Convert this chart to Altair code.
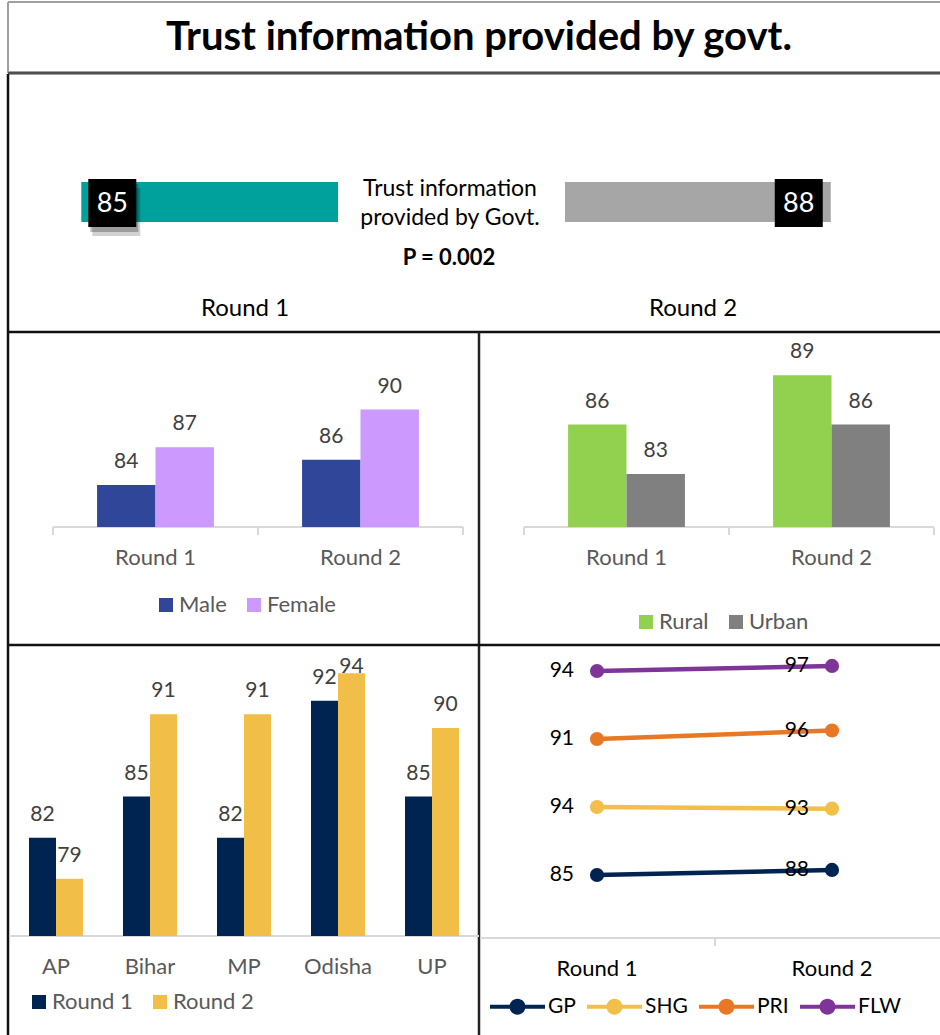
import altair as alt
import pandas as pd

FONT = "Lato"

# ---------------- data ----------------
rounds = ["Round 1", "Round 2"]
overall = [85, 88]

gender_series = ["Male", "Female"]
male = [84, 86]
female = [87, 90]

area_series = ["Rural", "Urban"]
rural = [86, 89]
urban = [83, 86]

states = ["AP", "Bihar", "MP", "Odisha", "UP"]
state_r1 = [82, 85, 82, 92, 85]
state_r2 = [79, 91, 91, 94, 90]

groups = ["GP", "SHG", "PRI", "FLW"]
group_r1 = [85, 94, 91, 94]
group_r2 = [88, 93, 96, 97]

title_text = "Trust information provided by govt."
center_text = "Trust information\nprovided by Govt."
p_text = "P = 0.002"

# ---------------- colours ----------------
TEAL, GREY_BAR = "#00A09C", "#A6A6A6"
MALE_C, FEMALE_C = "#2F4699", "#CC99FF"
RURAL_C, URBAN_C = "#92D050", "#808080"
NAVY, GOLD = "#002452", "#F1BE48"
GROUP_C = ["#002452", "#F2BF4A", "#E97826", "#7F3598"]
AXIS_C = "#D9D9D9"
CAT_C = "#595959"
VAL_C = "#404040"

dummy = pd.DataFrame({"d": [0]})


def rule(x1, y1, x2, y2, color, w):
    return alt.Chart(dummy).mark_rule(color=color, strokeWidth=w).encode(
        x=alt.value(x1), y=alt.value(y1), x2=alt.value(x2), y2=alt.value(y2))


def label(text, x, y, size, color="#000000", weight="normal", **kw):
    return alt.Chart(dummy).mark_text(
        text=text, fontSize=size, color=color, fontWeight=weight, font=FONT,
        baseline="middle", **kw).encode(x=alt.value(x), y=alt.value(y))


layers = []

# ---------------- frame ----------------
layers += [
    rule(8, 2, 940, 2, "#A0A0A0", 2),
    rule(8, 2, 8, 73, "#A0A0A0", 2),
    rule(8, 73, 940, 73, "#A0A0A0", 4),
    rule(8, 73, 940, 73, "#333333", 1.5),
    rule(8, 74, 8, 1035, "#111111", 2.5),
    rule(8, 332, 940, 332, "#111111", 2.5),
    rule(479, 332, 479, 1035, "#222222", 2.5),
    rule(8, 645, 940, 645, "#111111", 2.5),
]

layers.append(label(title_text, 479, 38, 40, weight="bold"))

# ---------------- top panel ----------------
top_df = pd.DataFrame({"round": rounds, "value": overall})
left_scale = alt.Scale(domain=[0, 100], range=[338, 36])
right_scale = alt.Scale(domain=[0, 100], range=[565, 867])
r1 = alt.FieldEqualPredicate(field="round", equal=rounds[0])
r2 = alt.FieldEqualPredicate(field="round", equal=rounds[1])

base_l = alt.Chart(top_df).transform_filter(r1)
base_r = alt.Chart(top_df).transform_filter(r2)
xl = alt.X("value:Q", scale=left_scale, axis=None)
xr = alt.X("value:Q", scale=right_scale, axis=None)

layers += [
    base_l.mark_bar(color=TEAL).encode(x=xl, x2=alt.datum(0), y=alt.value(182), y2=alt.value(222)),
    base_r.mark_bar(color=GREY_BAR).encode(x=xr, x2=alt.datum(0), y=alt.value(182), y2=alt.value(222)),
    base_l.mark_square(size=2304, color="#000000", opacity=0.18, xOffset=35, yOffset=9).encode(x=xl, y=alt.value(203)),
    base_l.mark_square(size=2304, color="#000000", opacity=0.25, xOffset=33, yOffset=5).encode(x=xl, y=alt.value(203)),
    base_l.mark_square(size=2304, color="#000000", opacity=1, xOffset=31).encode(x=xl, y=alt.value(203)),
    base_r.mark_square(size=2304, color="#000000", opacity=1, xOffset=-32).encode(x=xr, y=alt.value(203)),
    base_l.mark_text(color="white", fontSize=27, font=FONT, xOffset=31, baseline="middle").encode(
        x=xl, y=alt.value(204), text="value:Q"),
    base_r.mark_text(color="white", fontSize=27, font=FONT, xOffset=-32, baseline="middle").encode(
        x=xr, y=alt.value(204), text="value:Q"),
    label(center_text, 450, 189, 23, lineBreak="\n", lineHeight=29),
    label(p_text, 449, 258, 22, weight="bold"),
    alt.Chart(top_df).mark_text(fontSize=24, font=FONT, color="#000000", baseline="middle").encode(
        x=alt.X("round:N", scale=alt.Scale(type="point", domain=rounds, range=[245, 693], padding=0), axis=None),
        y=alt.value(309), text="round:N"),
]


# ---------------- grouped bar panels ----------------
def grouped_panel(df, cat_domain, series_domain, colors, xrange, pin, ydom, yrange,
                  base_y, leg_x, leg_y, cat_y, label_field="value", ticks=None):
    xs = alt.X("cat:N", scale=alt.Scale(type="band", domain=cat_domain, range=xrange,
                                         paddingInner=pin, paddingOuter=pin / 2), axis=None)
    xo = alt.XOffset("series:N", scale=alt.Scale(type="band", domain=series_domain,
                                                  paddingInner=0, paddingOuter=0))
    ysc = alt.Scale(domain=ydom, range=yrange, zero=False)
    out = []
    out.append(rule(xrange[0], base_y, xrange[1], base_y, AXIS_C, 2))
    for t in (ticks or []):
        out.append(rule(t, base_y, t, base_y + 8, AXIS_C, 2))
    out.append(alt.Chart(df).mark_bar().encode(
        x=xs, xOffset=xo,
        y=alt.Y("value:Q", scale=ysc, axis=None), y2=alt.datum(ydom[0]),
        color=alt.Color("series:N", scale=alt.Scale(domain=series_domain, range=colors),
                        legend=alt.Legend(title=None, orient="none", legendX=leg_x, legendY=leg_y,
                                          direction="horizontal", symbolType="square", symbolSize=196,
                                          symbolStrokeWidth=0, labelFontSize=22, labelColor=CAT_C,
                                          labelFont=FONT, columnPadding=16, labelOffset=2, padding=0))))
    out.append(alt.Chart(df).mark_text(fontSize=21, font=FONT, color=VAL_C, baseline="alphabetic", dy=-17).encode(
        x=xs, xOffset=xo, y=alt.Y(label_field + ":Q", scale=ysc, axis=None), text="value:Q"))
    cat_df = pd.DataFrame({"cat": cat_domain})
    out.append(alt.Chart(cat_df).mark_text(fontSize=22, font=FONT, color=CAT_C, baseline="middle").encode(
        x=xs, y=alt.value(cat_y), text="cat:N"))
    return out


gender_df = pd.DataFrame({
    "cat": rounds * 2,
    "series": [gender_series[0]] * 2 + [gender_series[1]] * 2,
    "value": male + female,
})
layers += grouped_panel(gender_df, rounds, gender_series, [MALE_C, FEMALE_C], [53, 463], 0.43,
                        [80.65, 90], [527, 409.5], 527, 155, 594, 558, ticks=[53, 258, 463])

area_df = pd.DataFrame({
    "cat": rounds * 2,
    "series": [area_series[0]] * 2 + [area_series[1]] * 2,
    "value": rural + urban,
})
layers += grouped_panel(area_df, rounds, area_series, [RURAL_C, URBAN_C], [524, 934], 0.43,
                        [79.78, 90], [527, 358.7], 527, 635, 611, 558, ticks=[524, 729, 934])

state_df = pd.DataFrame({
    "cat": states * 2,
    "series": [rounds[0]] * len(states) + [rounds[1]] * len(states),
    "value": state_r1 + state_r2,
})
state_df["lab"] = state_df["value"].clip(upper=92.8)
layers += grouped_panel(state_df, states, rounds, [NAVY, GOLD], [9, 479], 0.4255,
                        [74.83, 95], [936, 659.5], 936, 28, 991, 967, label_field="lab")

# ---------------- slope chart ----------------
rows = []
for i, g in enumerate(groups):
    for r, v in zip(rounds, [group_r1[i], group_r2[i]]):
        rows.append({"group": g, "round": r, "value": v, "pos": i + 0.025 * (v - group_r1[i])})
slope_df = pd.DataFrame(rows)

sx = alt.X("round:N", scale=alt.Scale(type="point", domain=rounds, range=[597, 832], padding=0), axis=None)
sy = alt.Y("pos:Q", scale=alt.Scale(domain=[0, 3], range=[875, 671], zero=False), axis=None)
scol = alt.Scale(domain=groups, range=GROUP_C)
LEG_PATH = ("M-1,-0.075H1V0.075H-1Z "
            "M0.29,0A0.29,0.29,0,1,1,-0.29,0A0.29,0.29,0,1,1,0.29,0Z")

layers += [
    rule(480, 938, 940, 938, AXIS_C, 2),
    rule(715, 938, 715, 946, AXIS_C, 2),
    alt.Chart(slope_df).mark_line(strokeWidth=4.5).encode(
        x=sx, y=sy, detail="group:N", color=alt.Color("group:N", scale=scol, legend=None)),
    alt.Chart(slope_df).mark_circle(size=201, opacity=1).encode(
        x=sx, y=sy, color=alt.Color("group:N", scale=scol,
                                    legend=alt.Legend(title=None, orient="none", legendX=490, legendY=979,
                                                      direction="horizontal", symbolType=LEG_PATH,
                                                      symbolSize=3025, symbolStrokeWidth=0,
                                                      labelFontSize=21, labelColor="#000000", labelFont=FONT,
                                                      columnPadding=11, labelOffset=3, padding=0))),
    alt.Chart(slope_df).mark_text(fontSize=21, font=FONT, color="#000000", align="right",
                                  baseline="middle", dx=-23).encode(x=sx, y=sy, text="value:Q"),
    alt.Chart(pd.DataFrame({"round": rounds})).mark_text(fontSize=22, font=FONT, color="#000000",
                                                          baseline="middle").encode(
        x=sx, y=alt.value(969), text="round:N"),
]

chart = alt.layer(*layers).resolve_scale(
    x="independent", y="independent", color="independent", xOffset="independent"
).properties(
    width=940, height=1035, autosize=alt.AutoSizeParams(type="none"), padding=0,
    background="white"
).configure_view(stroke=None)

chart.save("out.html", embed_options={"renderer": "svg", "actions": False})
